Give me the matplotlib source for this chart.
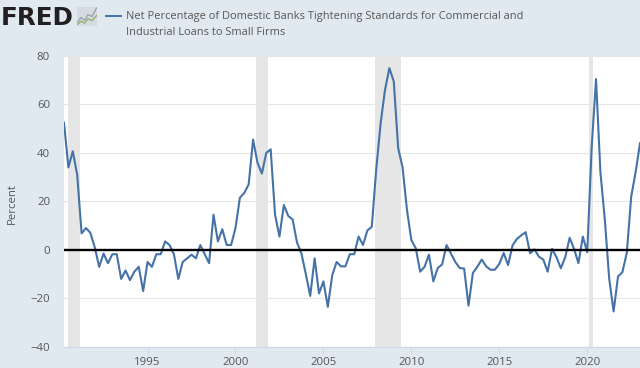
import numpy as np
import matplotlib
matplotlib.use("Agg")
import matplotlib.pyplot as plt
from matplotlib.ticker import FixedLocator

START_YEAR = 1990.25
values = [52.5, 34, 40.7, 31, 6.8, 9, 7, 1, -7, -1.5, -5.5, -1.8, -1.8, -12, -8.5, -12.5, -9, -7, -17,
          -5, -7, -1.8, -1.8, 3.5, 2, -1.8, -12, -5, -3.5, -2, -3.5, 2, -1.8, -5.5, 14.5, 3.5, 8.5, 2, 2,
          9, 21.5, 23.5, 27, 45.5, 36, 31.5, 40, 41.5, 14.5, 5.5, 18.5, 14, 12.5, 3, -1.5, -10, -19, -3.5,
          -18, -13, -23.5, -10.5, -5, -6.8, -6.8, -1.8, -1.8, 5.5, 2, 8, 9.5, 33, 52, 66, 75, 69.5, 42, 34,
          16.5, 4, 0.7, -9, -7, -2, -13, -7.5, -6, 2, -1.5, -5, -7.5, -7.7, -23, -9.5, -7, -4, -6.8, -8.2,
          -8.2, -5.8, -1.3, -6.3, 1.8, 4.5, 6, 7.3, -1.4, 0.2, -2.8, -4, -9, 0.4, -3, -7.6, -3, 5, 0.4,
          -5.5, 5.5, -1, 42, 70.5, 32, 12.5, -12, -25.4, -11, -9.2, -1.2, 22, 32, 44]
recessions = [(1990.5, 1991.17), (2001.17, 2001.83), (2007.92, 2009.42), (2020.08, 2020.33)]
x_ticks = [1995, 2000, 2005, 2010, 2015, 2020]
y_ticks = [-40, -20, 0, 20, 40, 60, 80]
title_lines = ["Net Percentage of Domestic Banks Tightening Standards for Commercial and",
               "Industrial Loans to Small Firms"]
y_label = "Percent"

W, H = 640, 368
BG = "#E1E9F0"
TXT = "#555555"
LINE = "#4572A7"
FONT = "Open Sans"

years = START_YEAR + np.arange(len(values)) / 4

fig = plt.figure(figsize=(W / 100, H / 100), dpi=100, facecolor=BG)
ax = fig.add_axes([64 / W, 1 - 346.8 / H, 576 / W, (346.8 - 56) / H])
ax.set_facecolor("white")
ax.set_xlim(START_YEAR, years[-1])
ax.set_ylim(-40, 80)
for a, b in recessions:
    ax.axvspan(a, b, color="#E6E6E6", lw=0, zorder=1.5)
ax.yaxis.set_major_locator(FixedLocator(y_ticks))
ax.xaxis.set_major_locator(FixedLocator(x_ticks))
ax.grid(axis="y", color="#E6E6E6", lw=0.8, zorder=1)
ax.set_axisbelow(True)
ax.plot(years, values, color=LINE, lw=1.5, zorder=3, solid_joinstyle="round", clip_on=True)
ax.axhline(0, color="black", lw=1.7, zorder=4)
for s in ("top", "left", "right"):
    ax.spines[s].set_visible(False)
ax.spines["bottom"].set_color("#CCD6EB")
ax.spines["bottom"].set_linewidth(0.8)
ax.tick_params(axis="y", length=0, pad=10, labelsize=8.2, labelcolor=TXT)
ax.tick_params(axis="x", length=5, width=0.7, color="#CCD6EB", pad=2, labelsize=8.2, labelcolor=TXT)
for t in ax.get_xticklabels() + ax.get_yticklabels():
    t.set_fontfamily(FONT)

fig.text(12.5 / W, 1 - 203.5 / H, y_label, rotation=90, ha="center", va="center",
         fontsize=8.2, color=TXT, family=FONT)

# header
fig.text(0.5 / W, 1 - 25 / H, "FRED", ha="left", va="baseline", fontsize=17.7, fontweight="bold",
         color="#231F20", family="DejaVu Sans")
fig.add_artist(plt.Line2D([106 / W, 120.5 / W], [1 - 16 / H, 1 - 16 / H], color=LINE, lw=1.4))
for i, line in enumerate(title_lines):
    fig.text(125.5 / W, 1 - (16.5 + 15.7 * i) / H, line, ha="left", va="center",
             fontsize=7.94, color=TXT, family=FONT)

# small logo icon
icon = fig.add_axes([77 / W, 1 - 26 / H, 20 / W, 19 / H])
icon.set_xlim(0, 1); icon.set_ylim(0, 1); icon.axis("off")
icon.add_patch(plt.Rectangle((0, 0), 1, 1, color="#D5DBDF", lw=0))
icon.plot([0.02, 0.2, 0.38, 0.55, 0.75, 0.98], [0.2, 0.45, 0.3, 0.6, 0.5, 0.95], color="#8EA0AE", lw=0.9)
icon.plot([0.02, 0.2, 0.38, 0.55, 0.75, 0.98], [0.08, 0.25, 0.15, 0.38, 0.28, 0.55], color="#8DAE5F", lw=0.9)

fig.savefig("out.png", dpi=100, facecolor=BG)
